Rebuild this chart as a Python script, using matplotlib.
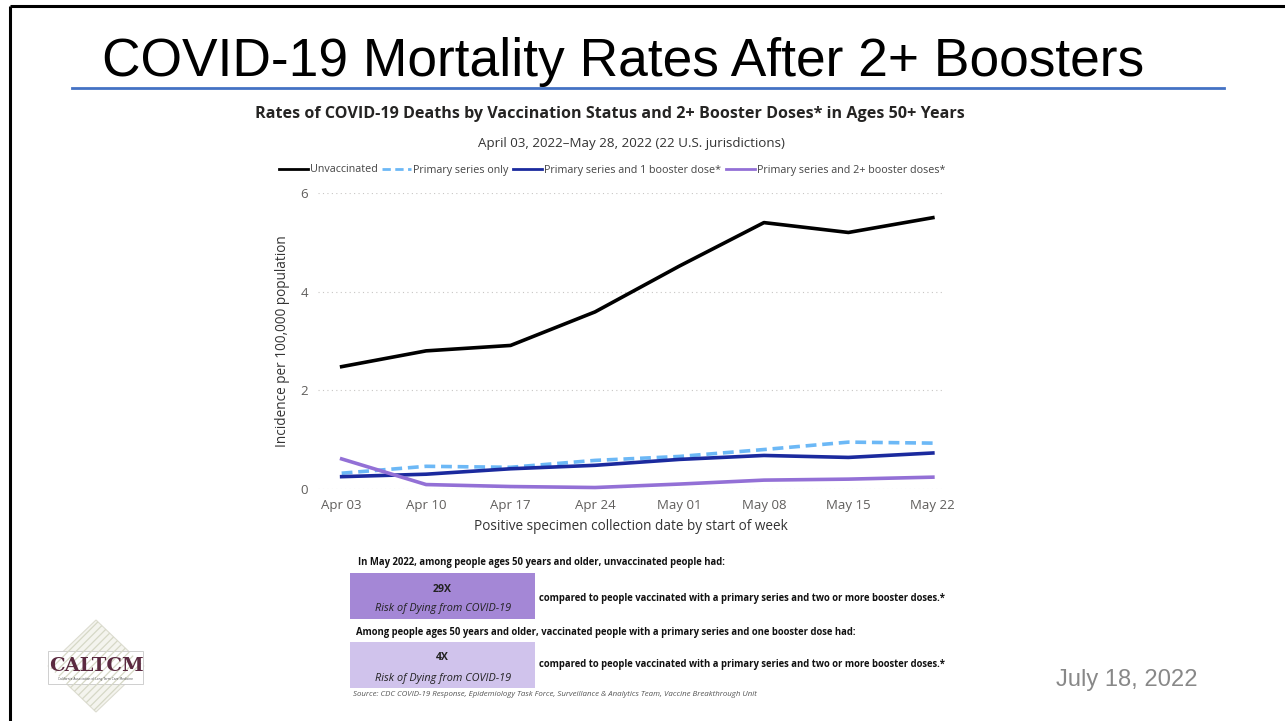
"""
COVID-19 mortality rates after 2+ boosters - slide recreation
"""
import matplotlib.pyplot as plt
from matplotlib.patches import Rectangle, Polygon
import numpy as np

# ==========================================================
# Data
# ==========================================================
weeks = ["Apr 03", "Apr 10", "Apr 17", "Apr 24", "May 01", "May 08", "May 15", "May 22"]

unvaccinated = [2.48, 2.80, 2.91, 3.59, 4.52, 5.40, 5.20, 5.50]
primary_only = [0.32, 0.46, 0.44, 0.58, 0.66, 0.80, 0.95, 0.93]
one_booster = [0.25, 0.30, 0.41, 0.48, 0.60, 0.68, 0.64, 0.73]
two_boosters = [0.61, 0.09, 0.05, 0.03, 0.10, 0.18, 0.20, 0.24]

y_ticks = [0, 2, 4, 6]

W, H = 1285, 721


def fx(px):
    return px / W


def fy(py):
    return 1 - py / H


fig = plt.figure(figsize=(W / 100, H / 100), dpi=100)
fig.patch.set_facecolor("white")

# overlay axes in pixel coords for slide decorations
bg = fig.add_axes([0, 0, 1, 1])
bg.set_xlim(0, W)
bg.set_ylim(H, 0)
bg.axis("off")

# slide border (top and left only)
bg.plot([10, W], [6, 6], color="black", lw=2.2, solid_capstyle="butt")
bg.plot([10, 10], [6, H], color="black", lw=2.2, solid_capstyle="butt")

# slide title + rule
bg.text(102, 76, "COVID-19 Mortality Rates After 2+ Boosters", fontsize=38.4,
        family="Liberation Sans", color="black", va="baseline", ha="left")
bg.plot([72, 1224], [88, 88], color="#4472C4", lw=2)

# chart headings
bg.text(610, 114, "Rates of COVID-19 Deaths by Vaccination Status and 2+ Booster Doses* in Ages 50+ Years",
        fontsize=11.6, fontweight="bold", family="Open Sans", color="#252423", ha="center", va="center")
bg.text(631, 144, "April 03, 2022\u2013May 28, 2022 (22 U.S. jurisdictions)",
        fontsize=9.6, family="Open Sans", color="#333333", ha="center", va="center")

# ==========================================================
# Chart
# ==========================================================
ax = fig.add_axes([fx(318), fy(489), fx(943) - fx(318), fy(193) - fy(489)])
x = np.arange(len(weeks))

l1, = ax.plot(x, unvaccinated, color="black", lw=2.6, label="Unvaccinated", clip_on=False)
l2, = ax.plot(x, primary_only, color="#6CB8F6", lw=2.6, linestyle=(0, (3, 1.6)),
              label="Primary series only", clip_on=False)
l3, = ax.plot(x, one_booster, color="#1B2A9E", lw=2.6, label="Primary series and 1 booster dose*",
              clip_on=False)
l4, = ax.plot(x, two_boosters, color="#9370D6", lw=2.6, label="Primary series and 2+ booster doses*",
              clip_on=False)

ax.set_xlim(-0.28, 7.12)
ax.set_ylim(0, 6)
ax.set_xticks(x)
ax.set_xticklabels(weeks)
ax.set_yticks(y_ticks)
ax.tick_params(length=0, labelsize=9.5, labelcolor="#605E5C", pad=7)
for lab in ax.get_xticklabels() + ax.get_yticklabels():
    lab.set_family("Open Sans")
ax.grid(axis="y", color="#C8C6C4", linestyle=(0, (1, 3)), lw=0.8)
ax.set_axisbelow(True)
for s in ax.spines.values():
    s.set_visible(False)
ax.patch.set_alpha(0)

ax.set_ylabel("Incidence per 100,000 population", fontsize=9.8, family="Open Sans",
              color="#333333", labelpad=8)
ax.set_xlabel("Positive specimen collection date by start of week", fontsize=9.8,
              family="Open Sans", color="#333333", labelpad=5)

leg = fig.legend(handles=[l1, l2, l3, l4], loc="center", bbox_to_anchor=(fx(612), fy(170)),
                 ncol=4, frameon=False, handlelength=2.7, handletextpad=0.2,
                 columnspacing=0.4, prop={"family": "Open Sans", "size": 7.75})
for t in leg.get_texts():
    t.set_color("#444444")
for h in leg.get_lines():
    h.set_linewidth(2)

# ==========================================================
# Risk boxes
# ==========================================================
bold_txt = dict(fontsize=6.85, fontweight="bold", family="Open Sans", color="#111111", va="center")
big_txt = dict(fontsize=7.6, fontweight="bold", family="Open Sans", color="#222222",
               va="center", ha="center")
ital_txt = dict(fontsize=7.8, style="italic", family="Open Sans", color="#222222",
                va="center", ha="center")

bg.text(358, 562, "In May 2022, among people ages 50 years and older, unvaccinated people had:",
        ha="left", **bold_txt)
bg.add_patch(Rectangle((350, 573), 185, 46, color="#A487D6", lw=0))
bg.text(442, 589, "29X", **big_txt)
bg.text(443, 609, "Risk of Dying from COVID-19", **ital_txt)
bg.text(539, 598, "compared to people vaccinated with a primary series and two or more booster doses.*",
        ha="left", **bold_txt)

bg.text(356, 632, "Among people ages 50 years and older, vaccinated people with a primary series and one booster dose had:",
        ha="left", **bold_txt)
bg.add_patch(Rectangle((350, 642), 185, 46, color="#D0C3EC", lw=0))
bg.text(442, 658, "4X", **big_txt)
bg.text(443, 679, "Risk of Dying from COVID-19", **ital_txt)
bg.text(539, 664, "compared to people vaccinated with a primary series and two or more booster doses.*",
        ha="left", **bold_txt)

bg.text(353, 695, "Source: CDC COVID-19 Response, Epidemiology Task Force, Surveillance & Analytics Team, Vaccine Breakthrough Unit",
        ha="left", va="center", fontsize=5.7, style="italic", family="Open Sans", color="#555555")

# ==========================================================
# Logo
# ==========================================================
cx, cy, hw, hh = 96, 666, 48, 46
diamond = Polygon([(cx, cy - hh), (cx + hw, cy), (cx, cy + hh), (cx - hw, cy)],
                  closed=True, facecolor="#F4F4EE", edgecolor="#DCDCD0", lw=0.8)
bg.add_patch(diamond)
for k in np.linspace(-hw * 2, hw * 2, 26):
    bg.plot([cx + k - hh, cx + k + hh], [cy + hh, cy - hh], color="#D6D8C6", lw=0.9,
            clip_path=diamond)
bg.add_patch(Rectangle((48, 651), 95, 33, facecolor="white", edgecolor="#C8C8C8", lw=0.6))
bg.text(96, 666, "CALTCM", ha="center", va="center", fontsize=14, fontweight="bold",
        family="DejaVu Serif", color="#5B2A40")
bg.text(96, 679, "California Association of Long Term Care Medicine", ha="center", va="center",
        fontsize=2.2, family="DejaVu Sans", color="#555555")

# date
bg.text(1056, 680, "July 18, 2022", ha="left", va="center", fontsize=17.1,
        family="Liberation Sans", color="#888888")

fig.savefig("out.png", dpi=100)
